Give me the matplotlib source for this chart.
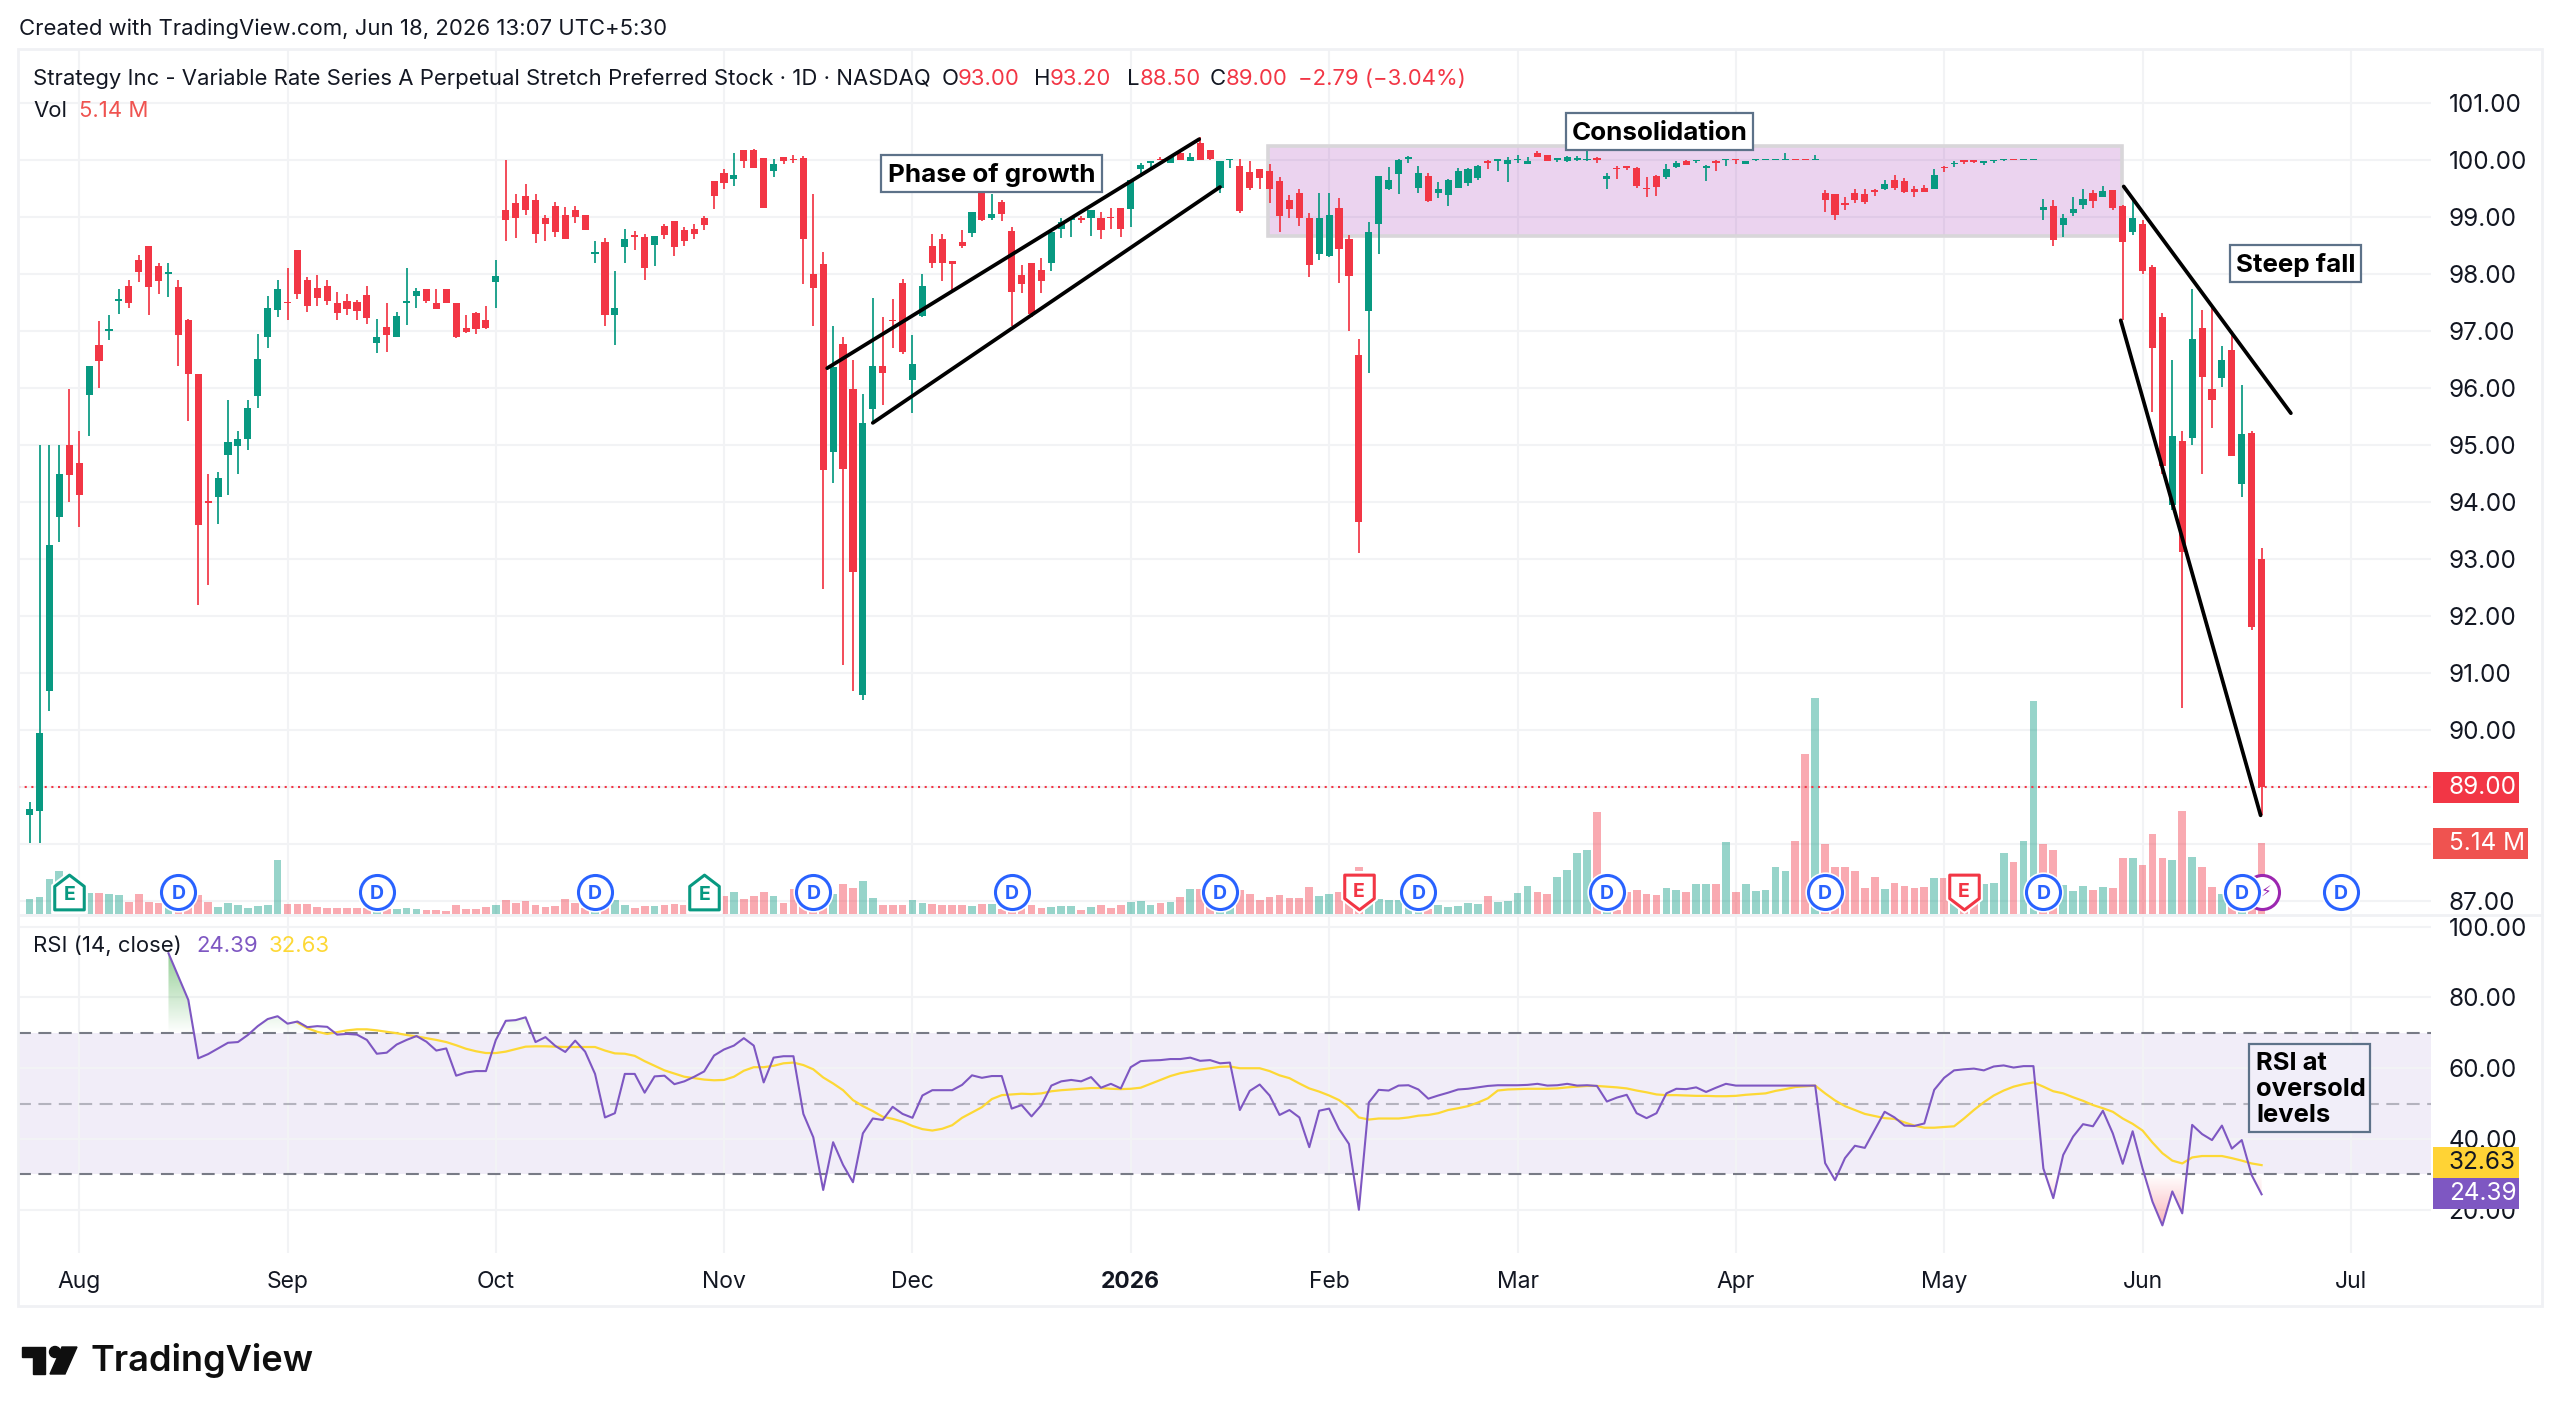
import numpy as np
import matplotlib
matplotlib.use("Agg")
import matplotlib.pyplot as plt
from matplotlib.patches import Rectangle, Polygon, Circle
from matplotlib.path import Path
from matplotlib.transforms import blended_transform_factory

plt.rcParams['font.family'] = ['Inter', 'DejaVu Sans']

# Daily session data, one entry per trading day
opens = [
 88.50,88.58,90.69,93.73,95.00,94.68,95.88,96.75,97.00,97.53,
 97.79,98.25,98.49,98.15,98.00,97.78,97.19,96.25,94.01,94.08,
 94.83,94.99,95.11,95.87,96.90,97.37,97.51,98.43,97.89,97.76,
 97.80,97.50,97.53,97.51,97.63,96.80,97.08,96.89,97.50,97.62,
 97.74,97.50,97.74,97.49,97.05,97.31,97.19,97.86,99.12,99.25,
 99.37,99.30,98.99,99.19,99.04,99.13,99.04,98.36,98.57,97.28,
 98.48,98.67,98.65,98.51,98.84,98.93,98.78,98.80,98.98,99.64,
 99.77,99.68,100.18,100.18,100.04,99.82,100.06,100.02,100.04,98.00,
 98.18,94.87,96.77,95.99,90.62,95.64,96.39,97.19,97.84,96.15,
 97.26,98.49,98.61,98.24,98.57,98.73,99.44,98.98,99.26,98.75,
 97.99,98.19,98.08,98.19,98.80,98.95,98.99,98.99,98.99,99.00,
 99.17,99.15,99.85,99.96,100.02,99.96,100.13,99.99,100.31,100.18,
 99.52,100.00,99.90,99.79,99.84,99.82,99.64,99.30,99.43,98.99,
 98.36,98.32,99.17,98.61,96.59,97.36,98.88,99.49,99.76,100.03,
 99.51,99.73,99.42,99.39,99.51,99.60,99.69,99.98,99.99,99.94,
 100.00,99.94,100.12,100.09,100.01,99.99,100.00,100.00,100.04,99.67,
 99.86,99.89,99.87,99.50,99.72,99.70,99.88,99.98,99.98,99.87,
 99.98,100.00,100.02,99.94,100.00,100.00,100.00,100.00,100.01,100.01,
 100.00,99.42,99.40,99.24,99.43,99.40,99.47,99.49,99.66,99.64,
 99.50,99.51,99.50,99.88,99.93,99.99,99.99,99.95,99.98,100.00,
 100.01,100.00,100.00,99.13,99.20,98.87,99.08,99.21,99.42,99.36,
 99.47,99.19,98.74,98.88,98.12,97.24,93.95,95.08,95.12,97.06,
 95.99,96.18,96.67,94.31,95.22,93.00]
highs = [
 88.74,95.00,95.00,95.00,95.99,95.25,96.39,97.18,97.29,97.74,
 97.89,98.33,98.49,98.20,98.19,97.89,97.22,96.25,94.49,94.53,
 95.80,95.25,95.80,96.95,97.61,97.89,98.10,98.43,97.95,97.98,
 97.89,97.69,97.65,97.54,97.80,97.21,97.50,97.34,98.10,97.75,
 97.74,97.74,97.74,97.49,97.29,97.34,97.45,98.25,100.00,99.40,
 99.59,99.40,99.04,99.27,99.18,99.19,99.04,98.58,98.64,98.05,
 98.80,98.75,98.70,98.67,98.89,98.93,98.82,98.89,99.02,99.64,
 99.85,100.13,100.18,100.19,100.04,100.03,100.06,100.09,100.07,99.40,
 98.39,97.09,96.89,96.49,95.89,97.58,97.24,97.56,97.91,96.93,
 98.00,98.70,98.70,98.24,98.78,99.09,99.44,99.40,99.30,98.83,
 98.17,98.19,98.29,98.74,98.99,99.01,99.03,99.13,99.09,99.17,
 99.17,99.66,99.96,99.98,100.05,100.07,100.16,100.12,100.40,100.18,
 99.98,100.03,100.03,99.98,99.84,99.93,99.70,99.39,99.49,99.08,
 99.43,99.43,99.33,98.68,96.87,98.92,99.72,99.89,100.03,100.07,
 99.90,99.77,99.62,99.68,99.86,99.87,99.91,100.00,100.01,100.05,
 100.09,100.06,100.16,100.10,100.03,100.07,100.08,100.18,100.06,99.78,
 99.90,99.90,99.89,99.70,99.74,99.94,99.98,100.00,100.00,99.92,
 100.00,100.03,100.03,99.99,100.02,100.01,100.01,100.12,100.02,100.01,
 100.10,99.47,99.40,99.35,99.50,99.50,99.50,99.65,99.75,99.69,
 99.54,99.56,99.84,99.90,99.98,100.00,100.00,99.98,100.00,100.01,
 100.02,100.02,100.02,99.32,99.31,99.05,99.35,99.50,99.47,99.54,
 99.48,99.21,99.32,98.96,98.16,97.32,96.49,95.25,97.74,97.38,
 97.42,96.74,97.01,96.05,95.25,93.20]
lows = [
 88.01,88.01,90.34,93.30,94.00,93.57,95.16,96.01,96.85,97.30,
 97.41,97.87,97.28,97.65,97.60,96.39,95.43,92.20,92.54,93.61,
 94.12,94.50,94.92,95.65,96.71,97.25,97.19,97.56,97.34,97.44,
 97.46,97.19,97.29,97.19,97.13,96.61,96.63,96.89,97.11,97.41,
 97.50,97.39,97.49,96.88,96.97,96.95,97.04,97.41,98.58,98.64,
 99.04,98.54,98.58,98.65,98.61,98.90,98.77,98.20,97.09,96.76,
 98.20,98.42,97.89,98.15,98.61,98.32,98.49,98.61,98.77,99.14,
 99.49,99.55,99.87,99.86,99.16,99.70,99.94,99.95,97.82,97.09,
 92.48,94.33,91.14,90.69,90.53,95.38,95.70,96.70,96.60,95.57,
 97.25,98.11,97.88,97.71,98.46,98.65,98.93,98.96,98.94,97.09,
 97.67,97.25,97.67,98.06,98.63,98.65,98.90,98.67,98.61,98.80,
 98.65,98.83,99.71,99.85,100.00,99.96,100.00,99.99,100.00,100.00,
 99.43,99.87,99.08,99.48,99.50,99.25,98.74,98.99,98.84,97.95,
 98.25,98.30,97.85,97.01,93.11,96.26,98.35,99.47,99.40,99.96,
 99.43,99.27,99.33,99.19,99.51,99.55,99.65,99.85,99.82,99.62,
 99.96,99.94,100.05,99.98,99.97,99.97,99.98,99.99,99.95,99.50,
 99.68,99.83,99.52,99.36,99.37,99.68,99.86,99.92,99.96,99.63,
 99.82,99.90,99.94,99.94,99.98,100.00,100.00,100.00,100.00,100.00,
 100.00,99.09,98.95,99.12,99.25,99.24,99.38,99.47,99.48,99.43,
 99.36,99.44,99.50,99.80,99.88,99.94,99.95,99.91,99.96,99.99,
 100.00,100.00,100.00,98.95,98.50,98.65,99.02,99.15,99.17,99.35,
 99.12,97.19,98.68,98.00,95.58,94.50,93.86,90.38,95.01,94.50,
 95.30,96.02,94.80,94.09,91.75,88.50]
closes = [
 88.61,89.95,93.25,94.50,94.47,94.13,96.39,96.48,97.03,97.57,
 97.49,98.04,97.78,97.88,98.02,96.94,96.24,93.60,93.98,94.43,
 95.05,95.10,95.65,96.51,97.40,97.74,97.49,97.65,97.44,97.58,
 97.53,97.31,97.39,97.36,97.23,96.89,96.94,97.26,97.52,97.70,
 97.53,97.39,97.49,96.90,96.98,97.03,97.05,97.96,98.95,98.98,
 99.12,98.70,98.88,98.74,98.61,99.01,98.78,98.39,97.28,97.40,
 98.61,98.65,98.11,98.67,98.68,98.48,98.59,98.70,98.87,99.37,
 99.60,99.74,99.99,99.87,99.16,99.94,99.98,100.00,98.61,97.75,
 94.57,96.37,94.58,92.78,95.38,96.39,96.27,97.17,96.64,96.42,
 97.79,98.19,98.19,98.18,98.50,99.09,98.96,99.05,99.05,97.68,
 97.83,97.30,97.88,98.74,98.92,98.96,98.95,99.13,98.77,98.98,
 98.79,99.66,99.92,99.98,100.00,100.05,100.01,100.06,100.00,100.03,
 99.98,100.01,99.11,99.52,99.69,99.49,99.03,99.15,98.99,98.17,
 98.99,99.04,98.44,97.97,93.65,98.74,99.72,99.65,100.00,100.04,
 99.78,99.29,99.49,99.66,99.82,99.85,99.90,99.96,100.01,100.00,
 100.02,99.99,100.05,99.99,100.03,100.05,100.04,100.02,100.01,99.73,
 99.84,99.87,99.54,99.49,99.53,99.85,99.95,99.92,100.00,99.90,
 99.96,100.02,100.00,99.99,100.01,100.01,100.01,100.01,100.00,100.00,
 100.01,99.30,99.04,99.22,99.30,99.27,99.45,99.59,99.51,99.44,
 99.44,99.45,99.74,99.86,99.95,99.97,99.97,99.96,99.99,100.01,
 100.00,100.01,100.01,99.18,98.60,98.99,99.15,99.32,99.28,99.46,
 99.16,98.56,98.99,98.05,96.70,94.63,95.16,93.13,96.86,96.19,
 95.80,96.49,94.80,95.19,91.80,89.00]

# Share volume in millions
volumes = [
 1.09,1.24,2.52,3.10,0.73,0.73,1.50,1.50,1.43,1.36,
 0.90,1.43,0.90,0.82,0.53,0.61,0.61,1.38,0.90,0.51,
 0.82,0.63,0.41,0.56,0.63,3.93,0.75,0.70,0.70,0.49,
 0.41,0.41,0.41,0.41,0.41,0.19,0.34,0.36,0.41,0.36,
 0.27,0.29,0.19,0.63,0.34,0.34,0.49,0.68,1.02,0.80,
 0.95,0.68,0.49,0.56,1.09,0.78,0.44,0.24,0.53,1.02,
 0.68,0.41,0.61,0.56,0.63,0.75,0.68,0.34,0.34,0.34,
 1.29,1.58,1.09,1.29,1.58,1.29,0.82,1.82,1.02,0.29,
 1.70,1.43,2.18,1.89,2.38,1.16,0.63,0.63,0.63,1.02,
 0.82,0.70,0.63,0.63,0.63,0.56,0.75,0.70,0.39,0.24,
 0.41,0.63,0.44,0.49,0.56,0.56,0.29,0.49,0.63,0.44,
 0.63,0.90,0.97,0.63,0.82,0.90,1.24,1.82,1.82,1.21,
 0.29,0.41,1.77,1.46,1.02,1.24,1.36,1.16,1.16,1.96,
 1.29,1.43,1.58,0.78,3.40,0.78,1.09,1.02,1.02,0.53,
 0.17,0.34,0.68,0.49,0.56,0.82,0.70,1.31,0.90,0.97,
 1.50,2.04,1.58,1.46,2.72,3.20,4.41,4.66,7.42,0.17,
 0.29,1.62,1.77,1.43,1.36,1.89,1.77,1.58,2.16,2.18,
 2.18,5.26,1.62,2.18,1.70,1.75,3.40,3.13,5.34,11.64,
 15.69,5.09,3.40,3.40,3.13,1.89,2.72,1.84,2.26,2.04,
 1.89,1.96,2.59,2.64,1.99,1.50,1.50,2.16,2.26,4.46,
 3.78,5.34,15.50,5.07,4.66,2.11,1.70,2.04,1.75,1.96,
 1.89,4.05,4.05,3.56,5.80,4.05,3.90,7.49,4.12,3.44,
 1.96,1.43,0.78,0.17,0.90,5.14]

# Sessions whose volume bar is coloured as an up day
volume_up_days = [
 0,1,2,3,6,8,9,14,19,20,21,22,23,24,25,35,37,38,39,47,57,59,60,63,71,75,81,
 84,85,89,90,95,97,103,104,105,107,111,112,113,115,117,120,121,130,131,
 135,136,137,138,139,140,142,143,144,145,146,148,149,150,151,154,155,156,157,
 159,165,166,168,169,171,173,174,175,176,177,180,187,192,194,197,198,199,
 201,202,205,206,207,209,212,216,218,221,223]

# RSI(14) begins on session 14
rsi_start = 14
rsi_values = [
 92.5,85.9,79.3,62.8,64.0,65.6,67.2,67.4,69.4,71.9,
 73.9,74.7,72.6,73.2,71.6,71.9,71.7,69.5,69.7,69.5,
 68.0,64.1,64.4,66.7,68.0,69.1,67.5,65.0,65.6,57.9,
 58.8,59.2,59.2,68.0,73.4,73.6,74.4,67.4,68.8,66.3,
 64.6,67.8,64.7,58.4,46.1,47.3,58.4,58.4,53.1,57.7,
 57.9,55.5,56.3,57.6,59.1,63.6,65.3,66.4,68.5,66.4,
 56.0,63.0,63.4,63.4,47.1,40.5,25.6,39.1,32.7,27.8,
 41.6,45.8,45.4,49.1,47.1,46.0,52.3,53.8,53.8,53.8,
 55.3,58.0,57.3,57.8,57.8,48.6,49.6,46.4,49.6,55.1,
 56.3,56.7,56.3,57.5,54.5,55.6,54.3,60.3,62.0,62.2,
 62.3,62.6,62.6,63.0,62.1,62.3,61.4,61.6,48.2,53.6,
 55.4,52.3,46.8,48.2,46.1,37.7,48.0,48.6,42.8,38.6,
 20.0,50.3,53.9,53.7,55.1,55.2,54.0,51.4,52.3,53.1,
 54.0,54.2,54.6,55.0,55.2,55.2,55.2,55.3,55.6,55.1,
 55.2,55.6,55.1,55.2,55.0,50.6,51.7,52.5,47.3,45.9,
 47.3,52.9,54.2,54.1,54.6,53.3,54.5,55.6,55.1,55.1,
 55.1,55.1,55.1,55.1,55.1,55.1,55.1,33.2,28.4,34.6,
 38.1,37.5,42.6,47.7,46.1,43.8,43.7,44.4,53.9,57.3,
 59.4,59.7,59.9,59.4,60.5,60.8,60.2,60.6,60.6,31.7,
 23.3,35.5,40.7,44.2,43.6,48.0,41.6,33.0,42.2,31.7,
 22.3,15.6,25.2,19.0,44.0,41.4,39.7,43.8,37.3,39.7,
 29.8,24.39]

# Moving average of the RSI begins on session 27
ma_start = 27
rsi_ma_values = [
 72.9,71.3,70.3,69.7,70.2,70.7,71.0,71.0,70.7,70.3,
 69.9,69.4,69.0,68.5,68.0,67.4,66.5,65.5,64.8,64.3,
 64.3,64.7,65.4,66.1,66.2,66.2,66.1,66.0,66.0,66.0,
 66.0,65.0,64.2,64.1,63.5,62.0,60.7,59.4,58.5,57.6,
 57.2,56.8,56.6,56.7,57.6,59.3,60.3,60.3,60.7,61.4,
 61.6,60.9,59.7,57.4,55.7,53.8,51.0,49.3,47.9,46.3,
 45.7,44.9,43.7,42.8,42.4,42.9,43.9,46.0,47.5,49.0,
 51.3,52.4,52.6,52.8,52.7,52.9,53.5,53.8,54.0,54.2,
 54.4,54.4,54.2,54.1,54.2,54.5,55.6,56.7,57.8,58.6,
 59.1,59.6,60.0,60.4,60.5,60.0,60.0,60.0,59.2,58.0,
 57.2,55.7,54.3,53.4,52.3,51.0,48.9,46.1,45.5,45.8,
 45.8,45.8,46.1,46.6,46.8,47.3,48.2,48.7,49.3,50.3,
 51.5,53.7,54.0,54.1,54.2,54.2,54.2,54.3,54.6,54.8,
 55.0,55.0,54.8,54.6,54.3,53.7,53.2,52.6,52.4,52.4,
 52.3,52.2,52.2,52.1,52.1,52.2,52.5,52.7,52.9,53.6,
 54.1,54.7,54.9,55.1,52.9,50.9,49.3,48.2,47.1,46.5,
 45.9,45.7,44.7,43.8,43.2,43.2,43.4,43.6,45.8,48.2,
 50.4,52.3,53.7,54.8,55.5,56.0,54.8,53.5,52.9,51.8,
 50.8,49.6,48.7,47.7,45.8,44.3,42.4,39.0,36.0,33.9,
 33.1,34.8,35.2,35.2,35.2,34.6,33.9,33.1,32.63]

month_positions = [5, 26, 47, 70, 89, 111, 131, 150, 172, 193, 213, 234]
month_labels = ['Aug', 'Sep', 'Oct', 'Nov', 'Dec', '2026', 'Feb', 'Mar', 'Apr', 'May', 'Jun', 'Jul']
price_ticks = list(range(87, 102))
# 88 and 89 stay as grid levels; the last-price and volume tags occupy their label slots
price_tick_labels = ['' if t in (88, 89) else f'{t:.2f}' for t in price_ticks]
rsi_ticks = [20, 40, 60, 80, 100]
dividend_days = [15, 35, 57, 79, 99, 120, 140, 159, 181, 203, 223, 233]
earnings_beat_days = [4, 68]
earnings_miss_days = [134, 195]
split_day = 225

channel_upper = ([80.4, 117.9], [96.35, 100.37])
channel_lower = ([85.0, 120.0], [95.39, 99.53])
fall_upper = ([211.1, 227.95], [99.54, 95.56])
fall_lower = ([210.8, 224.9], [97.19, 88.50])
range_days = (124.8, 210.9)
range_prices = (98.67, 100.25)
last_price = 89.00

UP, DOWN = '#089981', '#F23645'
TEXT = '#131722'
GRID = '#F2F3F5'
W, H = 2560, 1417

fig = plt.figure(figsize=(W / 100, H / 100), dpi=100, facecolor='white')


def pane(left, top, right, bottom, **kw):
    return fig.add_axes([left / W, 1 - bottom / H, (right - left) / W, (bottom - top) / H], **kw)


L, R = 18, 2431
PANE_TOP, PANE_MID, PANE_BOT = 50, 915, 1253
xlim = ((L - 29.6) / 9.92, (R - 29.6) / 9.92)
days = np.arange(len(opens))
o, h, l, c = map(np.array, (opens, highs, lows, closes))
v = np.array(volumes)

# Price scale and grid at the back, volume above it, candles on top
ax = pane(L, PANE_TOP, R, PANE_MID)
ax.set_xlim(*xlim)
ax.set_ylim(86.75, 101.936)
ax_vol = pane(L, PANE_TOP, R, PANE_MID, sharex=ax)
ax_vol.set_ylim(-0.07, 62.8)
ax_vol.patch.set_visible(False)
ax_vol.axis('off')
ax_px = pane(L, PANE_TOP, R, PANE_MID, sharex=ax, sharey=ax)
ax_px.patch.set_visible(False)
ax_px.axis('off')
ax_rsi = pane(L, PANE_MID, R, PANE_BOT, sharex=ax)
ax_rsi.set_ylim(7.8, 103.3)

for a in (ax, ax_rsi):
    for s in a.spines.values():
        s.set_visible(False)
    a.yaxis.tick_right()
    a.set_axisbelow(True)
    a.grid(True, color=GRID, lw=1.5)
    a.tick_params(length=0, labelsize=17.5, labelcolor=TEXT, pad=12.5)

ax.set_yticks(price_ticks, price_tick_labels)
ax.set_xticks(month_positions)
ax.tick_params(axis='x', labelbottom=False)
ax_rsi.set_yticks(rsi_ticks, [f'{t:.2f}' for t in rsi_ticks])
ax_rsi.set_xticks(month_positions, month_labels)
ax_rsi.tick_params(axis='x', pad=13, labelsize=16.5)
for lab in ax_rsi.get_xticklabels():
    if lab.get_text() == '2026':
        lab.set_fontweight('bold')

# Volume
vol_colors = np.full(len(v), '#F23645', dtype=object)
vol_colors[volume_up_days] = '#089981'
ax_vol.bar(days, v, width=0.78, color=list(vol_colors), alpha=0.42, linewidth=0)

# Consolidation range sits behind the candles
ax_px.add_patch(Rectangle((range_days[0], range_prices[0]), range_days[1] - range_days[0],
                          range_prices[1] - range_prices[0], facecolor='#9C27B0', alpha=0.2,
                          edgecolor='none', zorder=1))
ax_px.add_patch(Rectangle((range_days[0], range_prices[0]), range_days[1] - range_days[0],
                          range_prices[1] - range_prices[0], facecolor='none',
                          edgecolor='#D8D6D9', lw=2.6, zorder=1.2))

# Candles
is_up = c >= o
colors = np.where(is_up, UP, DOWN)
ax_px.vlines(days, l, h, colors=list(colors), lw=1.25, zorder=2)
body = np.maximum(np.abs(c - o), 0.03)
ax_px.bar(days, body, bottom=np.minimum(o, c), width=0.72, color=list(colors), linewidth=0, zorder=2.5)

ax_px.axhline(last_price, color=DOWN, lw=1.5, ls=(0, (1, 2.2)), zorder=1.5)

for xs, ys in (channel_upper, channel_lower, fall_upper, fall_lower):
    ax_px.plot(xs, ys, color='black', lw=2.7, solid_capstyle='round', zorder=4)

# Event badges above the time scale
badge_tf = blended_transform_factory(ax_px.transData, ax_px.transAxes)
BADGE_Y = (PANE_MID - 891.7) / (PANE_MID - PANE_TOP)
house_up = Path([(-0.85, -1), (0.85, -1), (0.85, 0.35), (0, 1), (-0.85, 0.35), (-0.85, -1)], closed=True)
house_down = Path([(-0.85, 1), (0.85, 1), (0.85, -0.35), (0, -1), (-0.85, -0.35), (-0.85, 1)], closed=True)

ax_px.plot([split_day], [BADGE_Y], 'o', transform=badge_tf, ms=24.5, mfc='white', mec='#9C27B0', mew=2.2, zorder=5)
for d in dividend_days:
    ax_px.plot([d], [BADGE_Y], 'o', transform=badge_tf, ms=28, mfc='white', mec='white', zorder=5.5)
    ax_px.plot([d], [BADGE_Y], 'o', transform=badge_tf, ms=24.5, mfc='white', mec='#2962FF', mew=2.2, zorder=5.6)
    ax_px.text(d, BADGE_Y, 'D', transform=badge_tf, ha='center', va='center_baseline', fontsize=14,
               fontweight='bold', color='#2962FF', zorder=5.7)
ax_px.text(split_day + 0.45, BADGE_Y, '\u26A1', transform=badge_tf, ha='center', va='center',
           fontsize=11, color='#9C27B0', family=['DejaVu Sans'], zorder=5.8)
for days_list, shape, col, dy in ((earnings_beat_days, house_up, UP, -0.002),
                                  (earnings_miss_days, house_down, DOWN, 0.002)):
    for d in days_list:
        ax_px.plot([d], [BADGE_Y], marker=shape, transform=badge_tf, ms=30, mfc='white', mec='white', zorder=5.5)
        ax_px.plot([d], [BADGE_Y], marker=shape, transform=badge_tf, ms=25, mfc='white', mec=col, mew=2.2, zorder=5.6)
        ax_px.text(d, BADGE_Y + dy, 'E', transform=badge_tf, ha='center', va='center_baseline', fontsize=14,
                   fontweight='bold', color=col, zorder=5.7)

# RSI pane
ax_rsi.axhspan(30, 70, color='#7E57C2', alpha=0.1, lw=0, zorder=0.5)
for lvl, al in ((70, 1.0), (50, 0.5), (30, 1.0)):
    ax_rsi.axhline(lvl, color='#787B86', alpha=al, lw=1.5, ls=(0, (6.2, 3.6)), zorder=1)

rsi_x = np.arange(rsi_start, rsi_start + len(rsi_values))
rsi = np.array(rsi_values)
ma_x = np.arange(ma_start, ma_start + len(rsi_ma_values))


def gradient_area(mask, limit, level, rgb, max_alpha):
    """Fill between the RSI line and a level with an alpha ramp towards the extreme."""
    poly = ax_rsi.fill_between(rsi_x, rsi, level, where=mask, interpolate=True,
                               facecolor='none', edgecolor='none')
    ramp = np.zeros((256, 1, 4))
    ramp[..., :3] = rgb
    ramp[..., 3] = np.linspace(0, max_alpha, 256)[:, None]
    im = ax_rsi.imshow(ramp, extent=(xlim[0], xlim[1], level, limit), origin='lower',
                       aspect='auto', zorder=1.5, interpolation='bilinear')
    im.set_clip_path(Path.make_compound_path(*poly.get_paths()), transform=ax_rsi.transData)


gradient_area(rsi > 70, 100, 70, (0.30, 0.69, 0.31), 0.8)
gradient_area(rsi < 30, 0, 30, (0.95, 0.21, 0.27), 0.75)
ax_rsi.set_xlim(*xlim)
ax_rsi.set_ylim(7.8, 103.3)

ax_rsi.plot(ma_x, rsi_ma_values, color='#FDD835', lw=1.6, zorder=3)
ax_rsi.plot(rsi_x, rsi, color='#7E57C2', lw=1.5, zorder=3.5)

# Page furniture in pixel coordinates
ov = fig.add_axes([0, 0, 1, 1], zorder=20)
ov.set_xlim(0, W)
ov.set_ylim(H, 0)
ov.axis('off')
ov.add_patch(Rectangle((18, 49), 2524, 1257, fill=False, edgecolor='#F0F1F4', lw=2))
ov.plot([18, 2542], [PANE_MID, PANE_MID], color='#F0F1F4', lw=2)


def txt(x, y, s, color=TEXT, size=15.9, **kw):
    kw.setdefault('va', 'center')
    return ov.text(x, y, s, color=color, fontsize=size, **kw)


txt(19, 29, 'Created with TradingView.com, Jun 18, 2026 13:07 UTC+5:30')
txt(33, 79, 'Strategy Inc - Variable Rate Series A Perpetual Stretch Preferred Stock \u00b7 1D \u00b7 NASDAQ')
for xlab, lab, xval, val in ((942, 'O', 958, '93.00'), (1034, 'H', 1050, '93.20'),
                             (1127, 'L', 1140, '88.50'), (1210, 'C', 1226, '89.00')):
    txt(xlab, 79, lab)
    txt(xval, 79, val, color=DOWN)
txt(1298, 79, '\u22122.79 (\u22123.04%)', color=DOWN)
txt(33, 111, 'Vol')
txt(79, 111, '5.14 M', color='#EF5350')
txt(33, 946, 'RSI (14, close)')
txt(196, 946, '24.39', color='#7E57C2')
txt(269, 946, '32.63', color='#FDD835')


def note(x0, y0, x1, y1, s):
    ov.add_patch(Rectangle((x0, y0), x1 - x0, y1 - y0, facecolor='white', edgecolor='#5D7289', lw=1.6, zorder=6))
    ov.text((x0 + x1) / 2, (y0 + y1) / 2 + 1.5, s, ha='center', va='center', fontsize=18.7,
            fontweight='bold', color='black', zorder=7)


note(881, 155, 1101.5, 191.7, 'Phase of growth')
note(1565.7, 113.3, 1752.7, 150, 'Consolidation')
note(2230, 245, 2361, 281.7, 'Steep fall')
ov.add_patch(Rectangle((2249, 1044), 121, 88, facecolor='#F1EEF9', edgecolor='#5D7289', lw=1.6, zorder=6))
for yy, line in ((1063, 'RSI at'), (1089, 'oversold'), (1115, 'levels')):
    ov.text(2256, yy, line, ha='left', va='center', fontsize=18.4, fontweight='bold', color='black', zorder=7)


def price_tag(y0, y1, s, bg, fg='white', x1=2519):
    ov.add_patch(Rectangle((2433, y0), x1 - 2433, y1 - y0, facecolor=bg, edgecolor='none', zorder=8))
    ov.text(2449, (y0 + y1) / 2, s, ha='left', va='center', fontsize=17.5, color=fg, zorder=9)


price_tag(771.7, 802.7, '89.00', DOWN)
price_tag(827.7, 859.3, '5.14 M', '#EF5350', x1=2528)
price_tag(1147, 1178, '32.63', '#FFD335', fg=TEXT)
price_tag(1178, 1209, '24.39', '#7E57C2')

# Logo mark and wordmark
ov.add_patch(Polygon([(22, 1347), (45, 1347), (45, 1374), (33, 1374), (33, 1357), (22, 1357)], color='#0F0F0F'))
ov.add_patch(Circle((55, 1352), 5.5, color='#0F0F0F'))
ov.add_patch(Polygon([(62, 1347), (77, 1347), (65, 1374), (50, 1374)], color='#0F0F0F'))
ov.text(90, 1361, 'TradingView', ha='left', va='center', fontsize=26, fontweight='semibold', color='#0F0F0F')

fig.savefig('out.png', dpi=100, facecolor='white')
